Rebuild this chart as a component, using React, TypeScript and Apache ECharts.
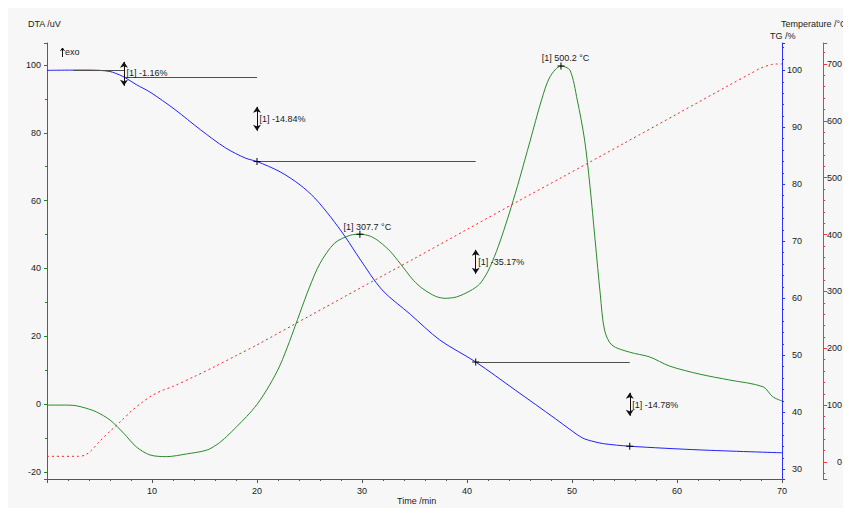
import { useEffect, useRef } from "react";
import * as echarts from "echarts";

// ---- DTA (uV) ----
const dtaTime = [0, 2, 2.8, 3.7, 4.7, 6, 7.3, 8.5, 9.8, 11.4, 13.3, 15.2, 16.2, 17.1, 19, 20, 21.2, 22.2, 23.1, 24.1, 25, 26, 27.4, 28.9, 29.8, 30.8, 31.7, 32.7, 33.6, 34.9, 35.8, 37, 37.9, 39, 40.3, 41.2, 42, 42.8, 43.5, 44.2, 45, 46, 47.1, 47.9, 48.95, 49.8, 50.5, 51.2, 51.7, 52.2, 52.7, 53.1, 53.8, 55.5, 57.4, 59.3, 62.2, 65, 68.2, 69.1, 70];
const dtaValue = [-0.3, -0.3, -0.5, -1.2, -2.3, -4.7, -8.6, -12.6, -15.0, -15.5, -14.7, -13.6, -11.9, -9.6, -3.7, -0.1, 5.6, 11.5, 18.5, 27, 34.5, 41.5, 47.5, 49.8, 50.1, 49.5, 47.8, 45.0, 41.6, 36.5, 34.0, 31.8, 31.2, 31.6, 33.4, 35.4, 39.2, 45.0, 51.2, 58.0, 66.4, 77.5, 89.7, 96.5, 99.7, 98.5, 89.7, 77.9, 64.6, 48.4, 32.2, 21.8, 17.4, 15.3, 13.9, 11.2, 8.8, 7.1, 5.1, 2.2, 0.9];

// ---- TG (%) ----
const tgTime = [0, 3, 5, 6, 6.5, 7.33, 8.5, 9.8, 12.2, 14.6, 17, 18.9, 20, 22.2, 24.1, 25.5, 27, 28.4, 29.8, 31.9, 34.6, 37.4, 40.83, 44.6, 48.4, 49.8, 51, 52, 53, 55.5, 62.2, 70];
const tgValue = [100, 100.05, 100, 99.8, 99.5, 98.84, 97.5, 96.2, 93.1, 89.6, 86.4, 84.6, 84.0, 82.2, 79.9, 77.6, 74.3, 70.8, 66.9, 61.5, 57.2, 52.7, 48.83, 43.9, 38.9, 37.0, 35.5, 34.9, 34.5, 34.05, 33.4, 32.9];

// ---- Temperature (°C) ----
const tempTime = [0, 3, 3.6, 4.2, 5, 6, 7, 8, 9, 10, 11, 12, 14, 16, 18, 20, 25, 30, 35, 40, 45, 49, 55, 60, 65, 67, 68, 69, 69.5, 70];
const tempValue = [10, 10, 12, 20, 36, 54, 71, 89, 104, 117, 126, 133, 150, 168, 187, 206, 257, 307.7, 358, 409, 460, 500.2, 561, 612, 663, 683, 693, 699, 700, 700];

// ---- mass-loss steps ----
const stepTime = [0, 7.33, 20, 40.83, 55.5];
const stepLevel = [100, 98.84, 84.0, 48.83, 34.05];
const stepLabels = ["[1] -1.16%", "[1] -14.84%", "[1] -35.17%", "[1] -14.78%"];
const arrowTop = [101.49, 93.6, 68.51, 43.42];
const arrowBottom = [97.28, 89.39, 64.3, 39.39];
const labelLevel = [99.45, 91.5, 66.4, 41.3];

// ---- DTA peaks ----
const peakTime = [29.8, 48.95];
const peakValue = [50.1, 99.7];
const peakLabels = ["[1] 307.7 °C", "[1] 500.2 °C"];

const FONT = "Liberation Sans, Arial, sans-serif";
const TXT = "#1a1a1a";
const PLUS = "path://M3,0h1v7h-1z M0,3h7v1h-7z";

function pairs(a: number[], b: number[]) {
  return a.map((v, i) => [v, b[i]]);
}

export default function App() {
  const ref = useRef<HTMLDivElement>(null);
  useEffect(() => {
    const chart = echarts.init(ref.current!, null, { renderer: "svg" });

    const stepLines: any[] = [];
    stepLabels.forEach((_, i) => {
      stepLines.push([
        { coord: [i === 0 ? 2.5 : stepTime[i], stepLevel[i]], symbol: "none" },
        { coord: [stepTime[i + 1], stepLevel[i]], symbol: "none" },
      ]);
    });
    stepLabels.forEach((_, i) => {
      stepLines.push([
        { coord: [stepTime[i + 1], arrowTop[i]], symbol: "arrow", symbolSize: [6, 6], lineStyle: { color: "#111" } },
        { coord: [stepTime[i + 1], arrowBottom[i]], symbol: "arrow", symbolSize: [6, 6], lineStyle: { color: "#111" } },
      ]);
    });

    const tgPoints: any[] = [];
    stepLabels.forEach((txt, i) => {
      tgPoints.push({
        coord: [stepTime[i + 1], labelLevel[i]],
        symbol: "rect",
        symbolSize: 1,
        itemStyle: { color: "rgba(0,0,0,0)" },
        label: { show: true, position: "right", distance: 2, formatter: txt, color: TXT, fontSize: 9, fontFamily: FONT },
      });
    });
    [2, 3, 4].forEach((k) => {
      tgPoints.push({
        coord: [stepTime[k], stepLevel[k]],
        symbol: PLUS,
        symbolSize: 7,
        itemStyle: { color: "#000" },
        label: { show: false },
      });
    });

    const peakOffsets = [[7.5, -7], [4.5, -8]];
    const dtaPoints = peakLabels.map((txt, i) => ({
      coord: [peakTime[i], peakValue[i]],
      symbol: PLUS,
      symbolSize: 7,
      itemStyle: { color: "#000" },
      label: { show: true, position: "inside", offset: peakOffsets[i], formatter: txt, color: TXT, fontSize: 9, fontFamily: FONT },
    }));

    const labelStyle = { color: TXT, fontSize: 9, fontFamily: FONT };

    chart.setOption({
      animation: false,
      backgroundColor: "#f7f7f7",
      textStyle: { fontFamily: FONT },
      grid: { left: 40, top: 36, right: 69, bottom: 29, containLabel: false, outerBoundsMode: "none" },
      xAxis: {
        type: "value",
        min: 0,
        max: 70,
        interval: 10,
        axisLine: { show: true, onZero: false, lineStyle: { color: "#555", width: 1 } },
        axisTick: { show: true, length: 4, lineStyle: { color: "#555" } },
        minorTick: { show: true, splitNumber: 5, length: 2, lineStyle: { color: "#555" } },
        axisLabel: { ...labelStyle, margin: 7, showMinLabel: false, showMaxLabel: true },
        splitLine: { show: false },
      },
      yAxis: [
        {
          type: "value",
          position: "left",
          min: -22.1,
          max: 106.5,
          splitNumber: 6,
          axisLine: { show: true, onZero: false, lineStyle: { color: "#1a8a1a", width: 1 } },
          axisTick: { show: true, length: 3, lineStyle: { color: "#1a8a1a" } },
          minorTick: { show: true, splitNumber: 2, length: 2, lineStyle: { color: "#1a8a1a" } },
          axisLabel: { ...labelStyle, margin: 6, showMinLabel: false, showMaxLabel: false },
          splitLine: { show: false },
        },
        {
          type: "value",
          position: "right",
          min: 28.3,
          max: 104.8,
          splitNumber: 8,
          axisLine: { show: true, onZero: false, lineStyle: { color: "#3030ff", width: 1 } },
          axisTick: { show: true, length: 3, lineStyle: { color: "#3030ff" } },
          minorTick: { show: true, splitNumber: 5, length: 2, lineStyle: { color: "#3030ff" } },
          axisLabel: { ...labelStyle, margin: 20, align: "right", showMinLabel: false, showMaxLabel: false },
          splitLine: { show: false },
        },
        {
          type: "value",
          position: "right",
          offset: 41,
          min: -29.9,
          max: 736.9,
          splitNumber: 8,
          axisLine: { show: true, onZero: false, lineStyle: { color: "#ff3030", width: 1 } },
          axisTick: { show: true, length: 4, lineStyle: { color: "#ff3030" } },
          minorTick: { show: true, splitNumber: 5, length: 2, lineStyle: { color: "#ff3030" } },
          axisLabel: { ...labelStyle, margin: 19, align: "right", showMinLabel: false, showMaxLabel: false },
          splitLine: { show: false },
        },
      ],
      series: [
        {
          name: "Temperature",
          type: "line",
          yAxisIndex: 2,
          data: pairs(tempTime, tempValue),
          smooth: 0.3,
          showSymbol: false,
          symbol: "none",
          lineStyle: { color: "#ff2020", width: 1, type: [2, 3] },
          z: 2,
        },
        {
          name: "DTA",
          type: "line",
          yAxisIndex: 0,
          data: pairs(dtaTime, dtaValue),
          smooth: 0.3,
          showSymbol: false,
          symbol: "none",
          lineStyle: { color: "#2a8a2a", width: 1 },
          markPoint: { silent: true, data: dtaPoints },
          z: 3,
        },
        {
          name: "TG",
          type: "line",
          yAxisIndex: 1,
          data: pairs(tgTime, tgValue),
          smooth: 0.3,
          showSymbol: false,
          symbol: "none",
          lineStyle: { color: "#2020ff", width: 1 },
          markLine: {
            silent: true,
            symbol: "none",
            label: { show: false },
            lineStyle: { color: "#505050", width: 1, type: "solid" },
            emphasis: { disabled: true },
            data: stepLines,
          },
          markPoint: { silent: true, data: tgPoints },
          z: 4,
        },
      ],
      graphic: [
        { type: "text", left: 21, top: 12, style: { text: "DTA /uV", fill: TXT, fontSize: 9, fontFamily: FONT } },
        { type: "line", shape: { x1: 55.5, y1: 50, x2: 55.5, y2: 41 }, style: { stroke: "#111", lineWidth: 1 } },
        { type: "polyline", shape: { points: [[53.5, 44], [55.5, 41], [57.5, 44]] }, style: { stroke: "#111", lineWidth: 1, fill: "none" } },
        { type: "text", left: 58, top: 40, style: { text: "exo", fill: TXT, fontSize: 9, fontFamily: FONT } },
        { type: "text", left: 763, top: 24, style: { text: "TG /%", fill: TXT, fontSize: 9, fontFamily: FONT } },
        { type: "text", left: 774, top: 12, style: { text: "Temperature /°C", fill: TXT, fontSize: 9, fontFamily: FONT } },
        { type: "text", left: 390, top: 489, style: { text: "Time /min", fill: TXT, fontSize: 9, fontFamily: FONT } },
      ],
    });
    return () => chart.dispose();
  }, []);
  return (
    <div
      ref={ref}
      style={{ width: 844, height: 501, position: "relative", left: -1, top: -1 }}
    />
  );
}
